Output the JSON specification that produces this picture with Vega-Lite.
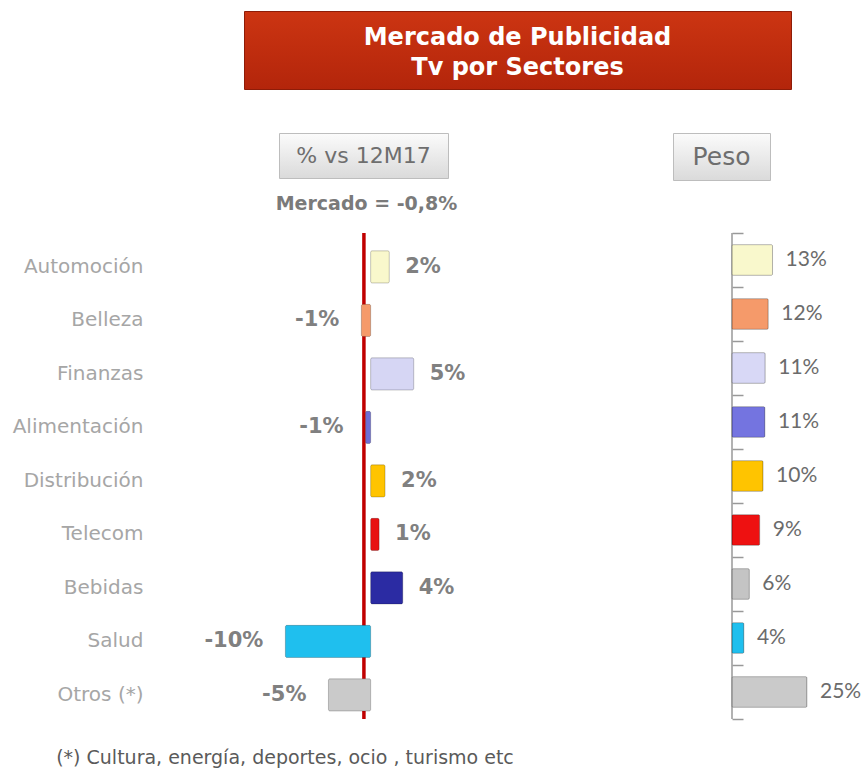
{
  "$schema": "https://vega.github.io/schema/vega-lite/v6.json",
  "padding": {"left": 12, "top": 10, "right": 0, "bottom": 0},
  "background": "white",
  "config": {"view": {"stroke": null}, "font": "DejaVu Sans"},
  "spacing": 0,
  "resolve": {"scale": {"x": "independent", "y": "independent", "color": "independent"}},
  "vconcat": [
    {
      "width": 547, "height": 78,
      "view": {"fill": {"gradient": "linear", "x1": 0, "y1": 0, "x2": 0, "y2": 1, "stops": [{"offset": 0, "color": "#cc3512"}, {"offset": 1, "color": "#b3250b"}]}, "stroke": "#8e1c08", "strokeWidth": 1},
      "data": {"values": [{"t": ["Mercado de Publicidad", "Tv por Sectores"]}]},
      "mark": {"type": "text", "color": "white", "fontWeight": "bold", "fontSize": 24, "lineHeight": 30, "baseline": "middle", "align": "center", "dy": -12},
      "encoding": {"text": {"field": "t"}}
    },
    {"width": 1, "height": 42, "data": {"values": [{}]}, "mark": {"type": "text", "text": ""}, "encoding": {}},
    {
      "bounds": "flush",
      "spacing": 0,
      "hconcat": [
        {"width": 35, "height": 45, "data": {"values": [{}]}, "mark": {"type": "text", "text": ""}, "encoding": {}},
        {
          "width": 169, "height": 45,
          "view": {"fill": {"gradient": "linear", "x1": 0, "y1": 0, "x2": 0, "y2": 1, "stops": [{"offset": 0, "color": "#fbfbfb"}, {"offset": 1, "color": "#dadada"}]}, "stroke": "#bdbdbd", "strokeWidth": 1},
          "title": {"text": "Mercado = -0,8%", "orient": "bottom", "anchor": "middle", "fontWeight": "bold", "fontSize": 19, "color": "#7a7a7a", "offset": 17, "dx": 3},
          "data": {"values": [{"t": "% vs  12M17"}]},
          "mark": {"type": "text", "color": "#6e6e6e", "fontSize": 22, "baseline": "middle", "align": "center"},
          "encoding": {"text": {"field": "t"}}
        },
        {"width": 225, "height": 45, "data": {"values": [{}]}, "mark": {"type": "text", "text": ""}, "encoding": {}},
        {
          "width": 97, "height": 47,
          "view": {"fill": {"gradient": "linear", "x1": 0, "y1": 0, "x2": 0, "y2": 1, "stops": [{"offset": 0, "color": "#fbfbfb"}, {"offset": 1, "color": "#dadada"}]}, "stroke": "#bdbdbd", "strokeWidth": 1},
          "data": {"values": [{"t": "Peso"}]},
          "mark": {"type": "text", "color": "#6e6e6e", "fontSize": 25, "baseline": "middle", "align": "center"},
          "encoding": {"text": {"field": "t"}}
        }
      ]
    },
    {"width": 1, "height": 16, "data": {"values": [{}]}, "mark": {"type": "text", "text": ""}, "encoding": {}},
    {
      "spacing": 259,
      "resolve": {"scale": {"x": "independent", "y": "independent", "color": "independent"}},
      "hconcat": [
        {
          "width": 228, "height": 486,
          "data": {"values": [
            {"sector": "Automoción", "var": 2.2, "label": "2%"},
            {"sector": "Belleza", "var": -1.1, "label": "-1%"},
            {"sector": "Finanzas", "var": 5.1, "label": "5%"},
            {"sector": "Alimentación", "var": -0.6, "label": "-1%"},
            {"sector": "Distribución", "var": 1.7, "label": "2%"},
            {"sector": "Telecom", "var": 1.0, "label": "1%"},
            {"sector": "Bebidas", "var": 3.8, "label": "4%"},
            {"sector": "Salud", "var": -10.1, "label": "-10%"},
            {"sector": "Otros (*)", "var": -5.0, "label": "-5%"}
          ]},
          "encoding": {
            "y": {"field": "sector", "type": "nominal", "sort": null,
              "scale": {"paddingInner": 0.4, "paddingOuter": 0.242, "align": 0.69},
              "axis": {"title": null, "domain": false, "ticks": false, "grid": false, "labelColor": "#a6a6a6", "labelFontSize": 20, "labelFont": "DejaVu Sans", "labelPadding": 101, "labelLimit": 300}}
          },
          "layer": [
            {
              "data": {"values": [{"mercado": -0.8}]},
              "mark": {"type": "rule", "color": "#c00000", "strokeWidth": 3.5},
              "encoding": {"y": null, "x": {"field": "mercado", "type": "quantitative", "scale": {"domain": [-15, 12], "zero": false, "nice": false}, "axis": null}}
            },
            {
              "mark": {"type": "bar", "stroke": "#000000", "strokeOpacity": 0.22, "strokeWidth": 1, "cornerRadius": 1.5},
              "encoding": {
                "x": {"field": "var", "type": "quantitative", "scale": {"domain": [-15, 12], "zero": false, "nice": false}, "axis": null},
                "x2": {"datum": 0},
                "color": {"field": "sector", "type": "nominal", "legend": null,
                  "scale": {"domain": ["Automoción", "Belleza", "Finanzas", "Alimentación", "Distribución", "Telecom", "Bebidas", "Salud", "Otros (*)"],
                    "range": ["#f9f8cc", "#f59a6a", "#d6d6f4", "#6e6ed6", "#ffc400", "#e81212", "#2b2ba3", "#1fbfee", "#cacaca"]}}
              }
            },
            {
              "transform": [{"filter": "datum.var >= 0"}],
              "mark": {"type": "text", "align": "left", "baseline": "middle", "dx": 16, "fontWeight": "bold", "fontSize": 21, "color": "#808080"},
              "encoding": {"x": {"field": "var", "type": "quantitative", "scale": {"domain": [-15, 12], "zero": false, "nice": false}, "axis": null}, "text": {"field": "label"}}
            },
            {
              "transform": [{"filter": "datum.var < 0"}],
              "mark": {"type": "text", "align": "right", "baseline": "middle", "dx": -22, "fontWeight": "bold", "fontSize": 21, "color": "#808080"},
              "encoding": {"x": {"field": "var", "type": "quantitative", "scale": {"domain": [-15, 12], "zero": false, "nice": false}, "axis": null}, "text": {"field": "label"}}
            }
          ]
        },
        {
          "width": 128, "height": 486,
          "data": {"values": [
            {"sector": "Automoción", "peso": 13.3, "label": "13%"},
            {"sector": "Belleza", "peso": 11.9, "label": "12%"},
            {"sector": "Finanzas", "peso": 10.9, "label": "11%"},
            {"sector": "Alimentación", "peso": 10.8, "label": "11%"},
            {"sector": "Distribución", "peso": 10.2, "label": "10%"},
            {"sector": "Telecom", "peso": 9.1, "label": "9%"},
            {"sector": "Bebidas", "peso": 5.7, "label": "6%"},
            {"sector": "Salud", "peso": 3.9, "label": "4%"},
            {"sector": "Otros (*)", "peso": 24.6, "label": "25%"}
          ]},
          "resolve": {"scale": {"y": "independent"}, "axis": {"y": "independent"}},
          "layer": [
            {
              "data": {"values": [{"base": 0}]},
              "mark": {"type": "rule", "color": "#999999", "strokeWidth": 1.5},
              "encoding": {"x": {"field": "base", "type": "quantitative", "scale": {"domain": [0, 42], "nice": false}, "axis": null}}
            },
            {
              "mark": {"type": "text", "text": ""},
              "encoding": {
                "y": {"field": "sector", "type": "nominal", "sort": null,
                  "scale": {"type": "band", "paddingInner": 0, "paddingOuter": 0},
                  "axis": {"title": null, "labels": false, "grid": false, "domain": false, "ticks": true, "tickColor": "#999999", "tickWidth": 1.5, "tickSize": 11, "offset": -11, "tickBand": "extent", "zindex": 1}}
              }
            },
            {
              "encoding": {
                "y": {"field": "sector", "type": "nominal", "sort": null,
                  "scale": {"paddingInner": 0.43, "paddingOuter": 0.215}, "axis": null},
                "x": {"field": "peso", "type": "quantitative", "scale": {"domain": [0, 42], "nice": false}, "axis": null}
              },
              "layer": [
                {
                  "mark": {"type": "bar", "stroke": "#000000", "strokeOpacity": 0.22, "strokeWidth": 1, "cornerRadius": 1.5},
                  "encoding": {
                    "color": {"field": "sector", "type": "nominal", "legend": null,
                      "scale": {"domain": ["Automoción", "Belleza", "Finanzas", "Alimentación", "Distribución", "Telecom", "Bebidas", "Salud", "Otros (*)"],
                        "range": ["#f9f8cc", "#f59a6a", "#d8d8f6", "#7474e0", "#ffc400", "#ee1111", "#c4c4c4", "#1fbfee", "#cacaca"]}}
                  }
                },
                {
                  "mark": {"type": "text", "align": "left", "baseline": "middle", "dx": 13, "font": "Lato", "fontSize": 21, "color": "#6b6b6b"},
                  "encoding": {"text": {"field": "label"}}
                }
              ]
            }
          ]
        }
      ]
    },
    {"width": 1, "height": 27, "data": {"values": [{}]}, "mark": {"type": "text", "text": ""}, "encoding": {}},
    {
      "width": 82, "height": 20,
      "data": {"values": [{"t": "(*) Cultura, energía, deportes, ocio , turismo etc"}]},
      "mark": {"type": "text", "fontSize": 19, "color": "#5a5a5a", "baseline": "middle", "align": "center"},
      "encoding": {"text": {"field": "t"}}
    }
  ]
}
